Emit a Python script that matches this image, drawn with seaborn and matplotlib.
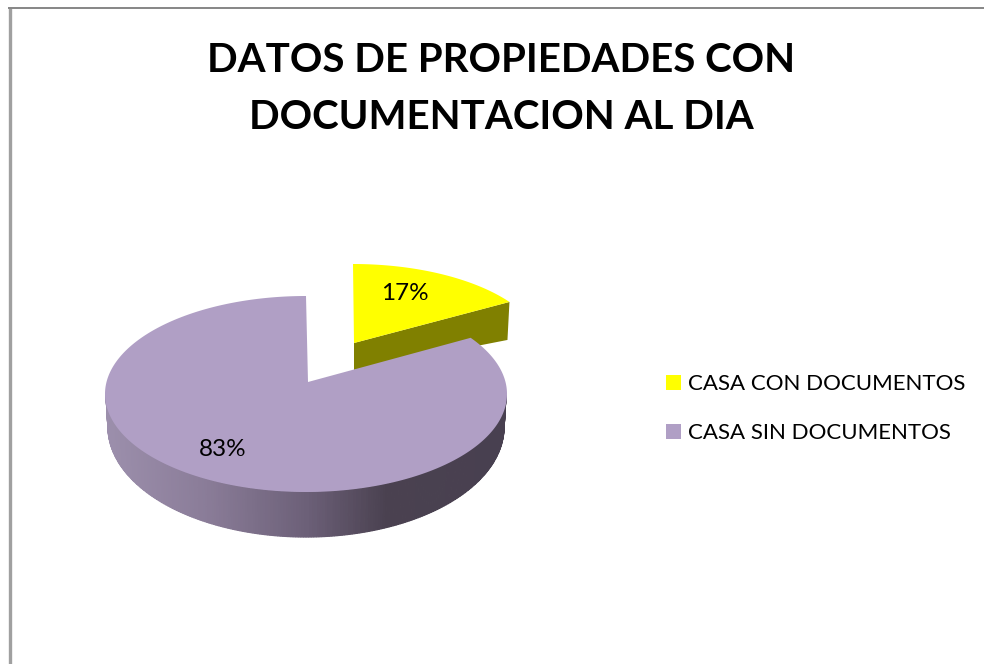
import numpy as np
import matplotlib
matplotlib.use("Agg")
import matplotlib.pyplot as plt
from matplotlib.colors import LinearSegmentedColormap
from matplotlib.patches import Patch
import seaborn as sns

# --- data ---
categories = ["CASA CON DOCUMENTOS", "CASA SIN DOCUMENTOS"]
shares = [17, 83]
title_lines = ["DATOS DE PROPIEDADES CON", "DOCUMENTACION AL DIA"]

# --- style ---
sns.set_theme(style="white")
plt.rcParams["font.family"] = ["Lato", "DejaVu Sans"]
YELLOW, PURPLE = sns.color_palette(["#ffff00", "#b09fc5"])
YELLOW_SIDE = "#808000"
wall_cmap = LinearSegmentedColormap.from_list(
    "wall", [(0, "#9c8fac"), (0.25, "#8a7c98"), (0.5, "#6c6078"), (0.7, "#4a4150"), (1, "#484050")]
)

fig = plt.figure(figsize=(9.84, 6.64), dpi=100, facecolor="white")
ax = fig.add_axes([0, 0, 1, 1])
ax.set_xlim(0, 984)
ax.set_ylim(664, 0)
ax.axis("off")

# chart frame
ax.plot([9.5, 9.5], [664, 7.5], color="#a0a0a0", lw=2.4, solid_capstyle="butt")
ax.plot([8, 984], [7.5, 7.5], color="#868686", lw=1.4, solid_capstyle="butt")

PERSPECTIVE = 55 / 61.2  # foreshortening of the slice angle on the tilted disc
split = np.deg2rad(360 * shares[0] / sum(shares) * PERSPECTIVE)


def rim(t, cx, cy, rx, ry):
    """Point of a tilted-disc ellipse, t clockwise from the top."""
    return cx + rx * np.sin(t), cy - ry * np.cos(t)


# purple wall, shaded strip by strip
P_TOP = (306, 394, 200, 98)
P_BOT = (306, 427, 198, 110)
edges = np.linspace(np.pi / 2, 3 * np.pi / 2, 241)
for t0, t1 in zip(edges[:-1], edges[1:]):
    tt = np.linspace(t0, t1, 3)
    xt, yt = rim(tt, *P_TOP)
    xb, yb = rim(tt, *P_BOT)
    shade = (xt.mean() - 105) / 402
    c = wall_cmap(shade)
    ax.fill(np.r_[xt, xb[::-1]], np.r_[yt, yb[::-1]], facecolor=c, edgecolor=c, lw=0.9)

# yellow wedge, lifted away from the disc
Y_TOP = (353, 353, 191, 89)
Y_APEX = (354, 343)
tt = np.linspace(0, split, 80)
xr, yr = rim(tt, *Y_TOP)
ax.fill([Y_APEX[0], xr[-1], xr[-1] - 2, Y_APEX[0]],
        [Y_APEX[1], yr[-1], yr[-1] + 38, Y_APEX[1] + 27],
        color=YELLOW_SIDE, lw=0)
ax.fill(np.r_[Y_APEX[0], xr], np.r_[Y_APEX[1], yr], color=YELLOW, lw=0)

# purple top face
P_APEX = (308, 382)
P_FACE = (306, 394, 201, 98)
tt = np.linspace(split, 2 * np.pi, 400)
xr, yr = rim(tt, *P_FACE)
ax.fill(np.r_[P_APEX[0], xr], np.r_[P_APEX[1], yr], color=PURPLE, lw=0)

# percentage labels
ax.text(404.5, 293.5, f"{shares[0]}%", fontsize=17.5, color="black", ha="center", va="center")
ax.text(222.5, 449.5, f"{shares[1]}%", fontsize=17.5, color="black", ha="center", va="center")

# title
ax.text(501, 60.5, title_lines[0], fontsize=29, fontweight="bold", color="black", ha="center", va="center")
ax.text(501, 117.5, title_lines[1], fontsize=29, fontweight="bold", color="black", ha="center", va="center")

# legend
handles = [Patch(facecolor=c, edgecolor="none") for c in (YELLOW, PURPLE)]
ax.legend(handles, categories, loc="center left", bbox_to_anchor=(666 / 984, 1 - 408.5 / 664),
          frameon=False, fontsize=16, handlelength=0.675, handleheight=0.675,
          handletextpad=0.32, labelspacing=1.3, borderpad=0, borderaxespad=0, labelcolor="black")

fig.savefig("out.png", dpi=100)
